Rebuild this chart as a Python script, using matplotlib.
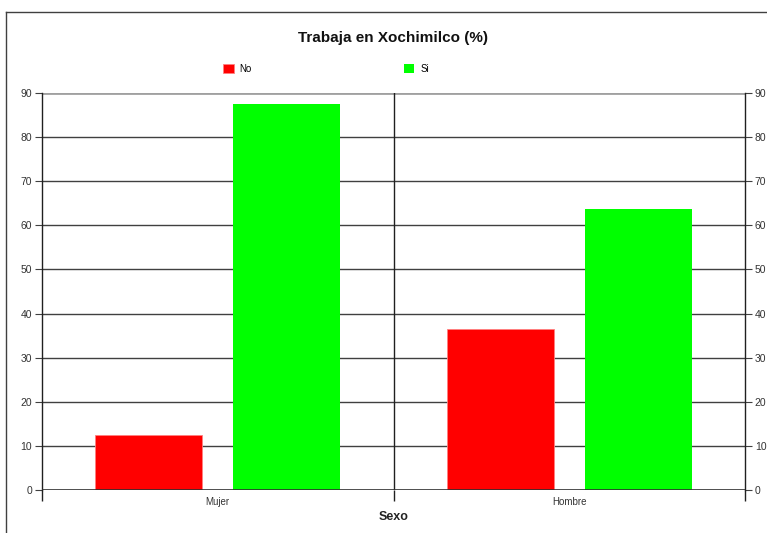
import matplotlib.pyplot as plt
import numpy as np
from matplotlib.lines import Line2D

plt.rcParams['font.family'] = ['Liberation Sans', 'DejaVu Sans']

# datos
categorias = ["Mujer", "Hombre"]
serie_no = [12.5, 36.4]
serie_si = [87.5, 63.6]
yticks = [0, 10, 20, 30, 40, 50, 60, 70, 80, 90]

fig = plt.figure(figsize=(7.67, 5.33), dpi=100, facecolor="white")
ax = fig.add_axes([0.0548, 0.0807, 0.9166, 0.7448])

x = np.arange(len(categorias))
ancho = 0.305
desp = 0.196

# lineas de la rejilla
for v in yticks:
    if v == 90:
        ax.axhline(v, color="#a0a0a0", lw=2, zorder=1)
    elif v == 0:
        ax.axhline(v, color="#303030", lw=1.2, zorder=4)
    else:
        ax.axhline(v, color="#404040", lw=1, zorder=1)
ax.axvline(0.5, color="#202020", lw=1, zorder=1)

b_no = ax.bar(x - desp, serie_no, ancho, color="#ff0000", edgecolor="#ff8080",
              lw=0.6, zorder=3, label="No")
b_si = ax.bar(x + desp, serie_si, ancho, color="#00ff00", zorder=3, label="Si")

ax.set_xlim(-0.5, 1.5)
ax.set_ylim(0, 90)

for s in ["top", "bottom"]:
    ax.spines[s].set_visible(False)
for s in ["left", "right"]:
    ax.spines[s].set_color("#202020")
    ax.spines[s].set_linewidth(1)

ax.set_yticks(yticks)
ax.tick_params(axis="y", which="both", left=True, right=True, labelleft=True,
               labelright=True, length=5, width=0.8, color="#404040",
               labelsize=7.5, labelcolor="#333333", pad=2)

ax.set_xticks(x)
ax.set_xticklabels(categorias)
ax.set_xticks([-0.5, 0.5, 1.5], minor=True)
ax.tick_params(axis="x", which="major", length=0, labelsize=7,
               labelcolor="#333333", pad=5)
ax.tick_params(axis="x", which="minor", length=8, width=1, color="#202020")

ax.set_xlabel("Sexo", fontsize=9, fontweight="bold", color="#222222", labelpad=3)

fig.text(0.512, 0.928, "Trabaja en Xochimilco (%)", ha="center", va="center",
         fontsize=11, fontweight="bold", color="#111111")

fig.legend(handles=[b_no, b_si], labels=["No", "Si"], ncol=2, frameon=False,
           loc="center left", bbox_to_anchor=(0.291, 0.871), fontsize=7,
           handlelength=1.1, handleheight=1.1, handletextpad=0.6,
           columnspacing=15.6, borderpad=0, borderaxespad=0)

# marco exterior
fig.add_artist(Line2D([6 / 767, 6 / 767], [0, 1 - 12 / 533],
                      transform=fig.transFigure, color="#404040", lw=1))
fig.add_artist(Line2D([6 / 767, 1], [1 - 12 / 533, 1 - 12 / 533],
                      transform=fig.transFigure, color="#404040", lw=1))

fig.savefig("out.png", dpi=100, facecolor="white")
